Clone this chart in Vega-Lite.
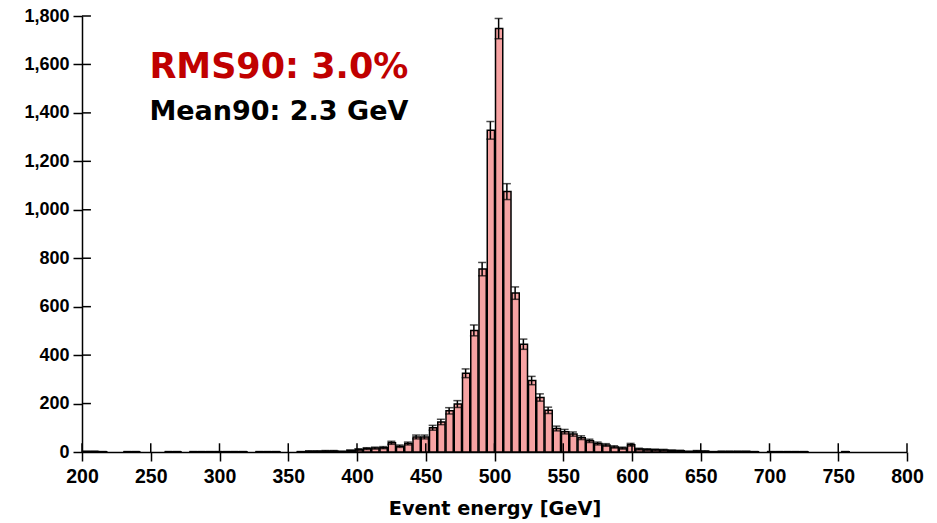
{
  "$schema": "https://vega.github.io/schema/vega-lite/v6.json",
  "width": 825,
  "height": 436,
  "autosize": "none",
  "padding": {"left": 82, "top": 16, "right": 30, "bottom": 71},
  "background": "white",
  "config": {
    "view": {"stroke": null},
    "axis": {
      "grid": false,
      "domainColor": "black",
      "domainWidth": 1.5,
      "tickColor": "black",
      "tickWidth": 1.5,
      "labelColor": "black",
      "labelFont": "Liberation Sans",
      "labelFontWeight": "bold",
      "labelFlush": false,
      "labelOverlap": false,
      "titleColor": "black"
    }
  },
  "datasets": {
    "hist": [
      {"lo": 200, "hi": 206, "mid": 203, "n": 2, "err": 1.4},
      {"lo": 206, "hi": 212, "mid": 209, "n": 2, "err": 1.4},
      {"lo": 212, "hi": 218, "mid": 215, "n": 1, "err": 1},
      {"lo": 230, "hi": 236, "mid": 233, "n": 1, "err": 1},
      {"lo": 236, "hi": 242, "mid": 239, "n": 1, "err": 1},
      {"lo": 260, "hi": 266, "mid": 263, "n": 1, "err": 1},
      {"lo": 266, "hi": 272, "mid": 269, "n": 1, "err": 1},
      {"lo": 278, "hi": 284, "mid": 281, "n": 1, "err": 1},
      {"lo": 284, "hi": 290, "mid": 287, "n": 1, "err": 1},
      {"lo": 290, "hi": 296, "mid": 293, "n": 1, "err": 1},
      {"lo": 296, "hi": 302, "mid": 299, "n": 1, "err": 1},
      {"lo": 302, "hi": 308, "mid": 305, "n": 1, "err": 1},
      {"lo": 308, "hi": 314, "mid": 311, "n": 1, "err": 1},
      {"lo": 314, "hi": 320, "mid": 317, "n": 1, "err": 1},
      {"lo": 326, "hi": 332, "mid": 329, "n": 1, "err": 1},
      {"lo": 332, "hi": 338, "mid": 335, "n": 1, "err": 1},
      {"lo": 338, "hi": 344, "mid": 341, "n": 1, "err": 1},
      {"lo": 356, "hi": 362, "mid": 359, "n": 1, "err": 1},
      {"lo": 362, "hi": 368, "mid": 365, "n": 3, "err": 1.7},
      {"lo": 368, "hi": 374, "mid": 371, "n": 3, "err": 1.7},
      {"lo": 374, "hi": 380, "mid": 377, "n": 4, "err": 2},
      {"lo": 380, "hi": 386, "mid": 383, "n": 4, "err": 2},
      {"lo": 386, "hi": 392, "mid": 389, "n": 2, "err": 1.4},
      {"lo": 392, "hi": 398, "mid": 395, "n": 6, "err": 2.4},
      {"lo": 398, "hi": 404, "mid": 401, "n": 10, "err": 3.2},
      {"lo": 404, "hi": 410, "mid": 407, "n": 14, "err": 3.7},
      {"lo": 410, "hi": 416, "mid": 413, "n": 16, "err": 4},
      {"lo": 416, "hi": 422, "mid": 419, "n": 18, "err": 4.2},
      {"lo": 422, "hi": 428, "mid": 425, "n": 38, "err": 6.2},
      {"lo": 428, "hi": 434, "mid": 431, "n": 24, "err": 4.9},
      {"lo": 434, "hi": 440, "mid": 437, "n": 35, "err": 5.9},
      {"lo": 440, "hi": 446, "mid": 443, "n": 62, "err": 7.9},
      {"lo": 446, "hi": 452, "mid": 449, "n": 62, "err": 7.9},
      {"lo": 452, "hi": 458, "mid": 455, "n": 100, "err": 10},
      {"lo": 458, "hi": 464, "mid": 461, "n": 124, "err": 11.1},
      {"lo": 464, "hi": 470, "mid": 467, "n": 170, "err": 13},
      {"lo": 470, "hi": 476, "mid": 473, "n": 198, "err": 14.1},
      {"lo": 476, "hi": 482, "mid": 479, "n": 325, "err": 18},
      {"lo": 482, "hi": 488, "mid": 485, "n": 502, "err": 22.4},
      {"lo": 488, "hi": 494, "mid": 491, "n": 755, "err": 27.5},
      {"lo": 494, "hi": 500, "mid": 497, "n": 1328, "err": 36.4},
      {"lo": 500, "hi": 506, "mid": 503, "n": 1748, "err": 41.8},
      {"lo": 506, "hi": 512, "mid": 509, "n": 1075, "err": 32.8},
      {"lo": 512, "hi": 518, "mid": 515, "n": 656, "err": 25.6},
      {"lo": 518, "hi": 524, "mid": 521, "n": 445, "err": 21.1},
      {"lo": 524, "hi": 530, "mid": 527, "n": 295, "err": 17.2},
      {"lo": 530, "hi": 536, "mid": 533, "n": 225, "err": 15},
      {"lo": 536, "hi": 542, "mid": 539, "n": 172, "err": 13.1},
      {"lo": 542, "hi": 548, "mid": 545, "n": 97, "err": 9.8},
      {"lo": 548, "hi": 554, "mid": 551, "n": 84, "err": 9.2},
      {"lo": 554, "hi": 560, "mid": 557, "n": 74, "err": 8.6},
      {"lo": 560, "hi": 566, "mid": 563, "n": 59, "err": 7.7},
      {"lo": 566, "hi": 572, "mid": 569, "n": 46, "err": 6.8},
      {"lo": 572, "hi": 578, "mid": 575, "n": 35, "err": 5.9},
      {"lo": 578, "hi": 584, "mid": 581, "n": 29, "err": 5.4},
      {"lo": 584, "hi": 590, "mid": 587, "n": 21, "err": 4.6},
      {"lo": 590, "hi": 596, "mid": 593, "n": 16, "err": 4},
      {"lo": 596, "hi": 602, "mid": 599, "n": 30, "err": 5.5},
      {"lo": 602, "hi": 608, "mid": 605, "n": 12, "err": 3.5},
      {"lo": 608, "hi": 614, "mid": 611, "n": 10, "err": 3.2},
      {"lo": 614, "hi": 620, "mid": 617, "n": 9, "err": 3},
      {"lo": 620, "hi": 626, "mid": 623, "n": 8, "err": 2.8},
      {"lo": 626, "hi": 632, "mid": 629, "n": 6, "err": 2.4},
      {"lo": 632, "hi": 638, "mid": 635, "n": 5, "err": 2.2},
      {"lo": 638, "hi": 644, "mid": 641, "n": 2, "err": 1.4},
      {"lo": 644, "hi": 650, "mid": 647, "n": 4, "err": 2},
      {"lo": 650, "hi": 656, "mid": 653, "n": 3, "err": 1.7},
      {"lo": 656, "hi": 662, "mid": 659, "n": 1, "err": 1},
      {"lo": 662, "hi": 668, "mid": 665, "n": 2, "err": 1.4},
      {"lo": 668, "hi": 674, "mid": 671, "n": 2, "err": 1.4},
      {"lo": 674, "hi": 680, "mid": 677, "n": 2, "err": 1.4},
      {"lo": 680, "hi": 686, "mid": 683, "n": 2, "err": 1.4},
      {"lo": 686, "hi": 692, "mid": 689, "n": 1, "err": 1},
      {"lo": 698, "hi": 704, "mid": 701, "n": 1, "err": 1},
      {"lo": 704, "hi": 710, "mid": 707, "n": 1, "err": 1},
      {"lo": 710, "hi": 716, "mid": 713, "n": 1, "err": 1},
      {"lo": 716, "hi": 722, "mid": 719, "n": 1, "err": 1},
      {"lo": 722, "hi": 728, "mid": 725, "n": 1, "err": 1},
      {"lo": 752, "hi": 758, "mid": 755, "n": 1, "err": 1}
    ],
    "xticks": [
      {"v": 200}, {"v": 250}, {"v": 300}, {"v": 350}, {"v": 400}, {"v": 450}, {"v": 500},
      {"v": 550}, {"v": 600}, {"v": 650}, {"v": 700}, {"v": 750}, {"v": 800}
    ],
    "yticks": [
      {"v": 0}, {"v": 200}, {"v": 400}, {"v": 600}, {"v": 800}, {"v": 1000},
      {"v": 1200}, {"v": 1400}, {"v": 1600}, {"v": 1800}
    ],
    "notes": [
      {"x": 249, "y": 1545, "label": "RMS90: 3.0%", "kind": "rms"},
      {"x": 249, "y": 1372, "label": "Mean90: 2.3 GeV", "kind": "mean"}
    ]
  },
  "layer": [
    {
      "data": {"name": "hist"},
      "mark": {"type": "bar", "fill": "#F7A3A3", "stroke": "black", "strokeWidth": 1.5},
      "encoding": {
        "x": {
          "field": "lo",
          "type": "quantitative",
          "bin": "binned",
          "scale": {"domain": [200, 800], "nice": false, "zero": false},
          "axis": {
            "values": [200, 250, 300, 350, 400, 450, 500, 550, 600, 650, 700, 750, 800],
            "format": "d",
            "labelFontSize": 19.5,
            "tickSize": 9,
            "labelPadding": 6,
            "title": "Event energy [GeV]",
            "titleFont": "DejaVu Sans",
            "titleFontWeight": "bold",
            "titleFontSize": 19.3,
            "titlePadding": 14
          }
        },
        "x2": {"field": "hi"},
        "y": {
          "field": "n",
          "type": "quantitative",
          "scale": {"domain": [0, 1800], "nice": false},
          "axis": {
            "values": [0, 200, 400, 600, 800, 1000, 1200, 1400, 1600, 1800],
            "format": ",d",
            "labelFontSize": 18,
            "tickSize": 9,
            "labelPadding": 4,
            "title": null
          }
        }
      }
    },
    {
      "data": {"name": "hist"},
      "mark": {"type": "errorbar", "ticks": {"size": 8}, "color": "black", "thickness": 1.5},
      "encoding": {
        "x": {"field": "mid", "type": "quantitative"},
        "y": {"field": "n", "type": "quantitative"},
        "yError": {"field": "err"}
      }
    },
    {
      "data": {"name": "xticks"},
      "mark": {"type": "rule", "color": "black", "strokeWidth": 1.5},
      "encoding": {
        "x": {"field": "v", "type": "quantitative"},
        "y": {"datum": 0},
        "y2": {"datum": 36}
      }
    },
    {
      "data": {"name": "yticks"},
      "mark": {"type": "rule", "color": "black", "strokeWidth": 1.5},
      "encoding": {
        "y": {"field": "v", "type": "quantitative"},
        "x": {"datum": 200},
        "x2": {"datum": 206.5}
      }
    },
    {
      "data": {"name": "notes"},
      "mark": {"type": "text", "align": "left", "baseline": "alphabetic", "font": "DejaVu Sans", "fontWeight": "bold"},
      "encoding": {
        "x": {"field": "x", "type": "quantitative"},
        "y": {"field": "y", "type": "quantitative"},
        "text": {"field": "label"},
        "color": {"field": "kind", "type": "nominal", "scale": {"domain": ["rms", "mean"], "range": ["#C00000", "black"]}, "legend": null},
        "size": {"field": "kind", "type": "nominal", "scale": {"domain": ["rms", "mean"], "range": [35, 27]}, "legend": null}
      }
    }
  ]
}
